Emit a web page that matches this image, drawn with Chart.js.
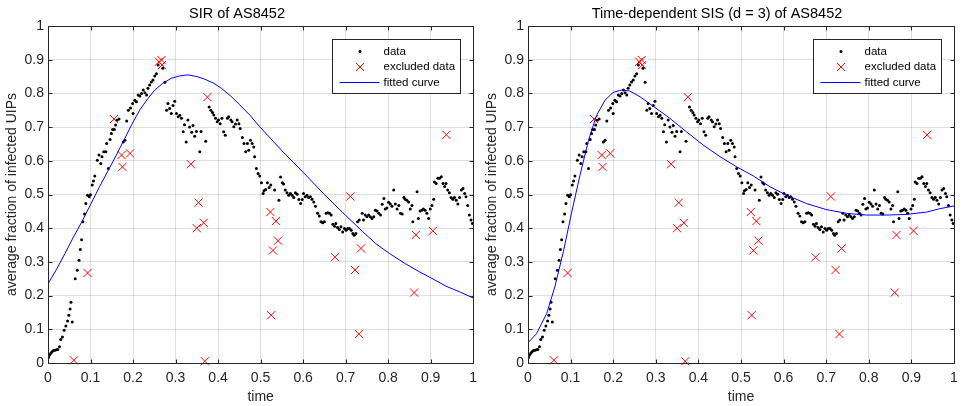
<!DOCTYPE html>
<html lang="en">
<head>
  <meta charset="UTF-8" />
  <title>SIR / SIS fits of AS8452</title>
  <script src="https://cdn.jsdelivr.net/npm/chart.js@4.4.1/dist/chart.umd.min.js"></script>
  <style>
    body { margin: 0; background: #fff; }
    .box { position: absolute; top: 0; height: 406px; }
  </style>
</head>
<body>
  <div class="box" style="left:0;width:480px"><canvas id="sirChart"></canvas></div>
  <div class="box" style="left:480px;width:484px"><canvas id="sisChart"></canvas></div>

  <script>
    // observed data (black dots)
    const dataT = [
      0.001, 0.003, 0.006, 0.009, 0.012, 0.016, 0.020, 0.023, 0.027, 0.030,
      0.034, 0.038, 0.042, 0.046, 0.049, 0.052, 0.054, 0.057, 0.064, 0.069,
      0.073, 0.076, 0.079, 0.082, 0.086, 0.089, 0.093, 0.097, 0.100, 0.104,
      0.107, 0.110, 0.116, 0.120, 0.124, 0.127, 0.131, 0.136, 0.138, 0.142,
      0.146, 0.149, 0.152, 0.156, 0.159, 0.162, 0.167, 0.177, 0.181, 0.185,
      0.189, 0.194, 0.199, 0.200, 0.204, 0.208, 0.212, 0.216, 0.220, 0.224,
      0.228, 0.232, 0.235, 0.239, 0.243, 0.247, 0.251, 0.255, 0.259, 0.270,
      0.275, 0.279, 0.282, 0.286, 0.290, 0.294, 0.298, 0.302, 0.306, 0.310,
      0.314, 0.318, 0.321, 0.325, 0.329, 0.333, 0.338, 0.341, 0.345, 0.349,
      0.357, 0.360, 0.371, 0.379, 0.383, 0.387, 0.390, 0.394, 0.398, 0.401,
      0.405, 0.409, 0.413, 0.417, 0.422, 0.425, 0.430, 0.433, 0.437, 0.441,
      0.445, 0.449, 0.452, 0.457, 0.461, 0.465, 0.469, 0.472, 0.476, 0.480,
      0.484, 0.486, 0.490, 0.494, 0.498, 0.502, 0.506, 0.508, 0.512, 0.516,
      0.520, 0.524, 0.533, 0.543, 0.547, 0.551, 0.554, 0.558, 0.562, 0.566,
      0.570, 0.574, 0.578, 0.582, 0.586, 0.590, 0.594, 0.598, 0.601, 0.605,
      0.609, 0.613, 0.617, 0.621, 0.625, 0.629, 0.634, 0.638, 0.642, 0.646,
      0.650, 0.654, 0.658, 0.662, 0.666, 0.670, 0.674, 0.677, 0.681, 0.685,
      0.689, 0.693, 0.697, 0.701, 0.705, 0.709, 0.713, 0.717, 0.720, 0.724,
      0.728, 0.732, 0.739, 0.742, 0.746, 0.750, 0.754, 0.758, 0.762, 0.766,
      0.770, 0.774, 0.778, 0.782, 0.786, 0.790, 0.793, 0.797, 0.801, 0.805,
      0.809, 0.813, 0.817, 0.821, 0.825, 0.829, 0.833, 0.837, 0.840, 0.844,
      0.848, 0.852, 0.856, 0.858, 0.868, 0.871, 0.875, 0.879, 0.883, 0.887,
      0.891, 0.895, 0.899, 0.903, 0.907, 0.909, 0.913, 0.917, 0.921, 0.925,
      0.929, 0.933, 0.936, 0.940, 0.944, 0.948, 0.952, 0.956, 0.960, 0.964,
      0.968, 0.972, 0.976, 0.980, 0.983, 0.987, 0.991, 0.995, 0.998
    ];
    const dataV = [
      0.016, 0.023, 0.028, 0.033, 0.036, 0.038, 0.039, 0.040, 0.048, 0.070,
      0.077, 0.097, 0.110, 0.125, 0.142, 0.160, 0.180, 0.122, 0.250, 0.275,
      0.305, 0.337, 0.366, 0.419, 0.442, 0.473, 0.498, 0.493, 0.499, 0.528,
      0.540, 0.555, 0.602, 0.617, 0.592, 0.612, 0.627, 0.627, 0.651, 0.577,
      0.663, 0.681, 0.693, 0.693, 0.706, 0.720, 0.724, 0.656, 0.661, 0.718,
      0.750, 0.757, 0.770, 0.740, 0.780, 0.775, 0.795, 0.792, 0.800, 0.810,
      0.802, 0.795, 0.815, 0.825, 0.834, 0.840, 0.852, 0.858, 0.884, 0.875,
      0.833, 0.750, 0.770, 0.755, 0.740, 0.764, 0.777, 0.740, 0.731, 0.735,
      0.726, 0.686, 0.707, 0.656, 0.721, 0.700, 0.685, 0.705, 0.673, 0.687,
      0.627, 0.687, 0.658, 0.760, 0.750, 0.743, 0.736, 0.726, 0.716, 0.721,
      0.710, 0.726, 0.686, 0.676, 0.726, 0.731, 0.721, 0.716, 0.701, 0.709,
      0.721, 0.710, 0.696, 0.669, 0.651, 0.627, 0.651, 0.631, 0.661, 0.651,
      0.641, 0.612, 0.577, 0.562, 0.555, 0.535, 0.503, 0.511, 0.515, 0.535,
      0.521, 0.528, 0.513, 0.483, 0.552, 0.535, 0.531, 0.513, 0.505, 0.498,
      0.503, 0.498, 0.491, 0.505, 0.501, 0.485, 0.473, 0.485, 0.503, 0.493,
      0.498, 0.491, 0.493, 0.486, 0.478, 0.465, 0.444, 0.436, 0.419, 0.416,
      0.419, 0.444, 0.446, 0.444, 0.439, 0.412, 0.406, 0.414, 0.402, 0.396,
      0.404, 0.389, 0.399, 0.394, 0.399, 0.399, 0.394, 0.384, 0.379, 0.384,
      0.419, 0.424, 0.444, 0.424, 0.439, 0.434, 0.439, 0.434, 0.429, 0.434,
      0.453, 0.451, 0.444, 0.439, 0.471, 0.488, 0.457, 0.460, 0.477, 0.472,
      0.465, 0.513, 0.472, 0.457, 0.467, 0.444, 0.442, 0.491, 0.486, 0.483,
      0.478, 0.457, 0.467, 0.419, 0.508, 0.429, 0.451, 0.453, 0.457, 0.453,
      0.444, 0.429, 0.457, 0.467, 0.486, 0.537, 0.533, 0.548, 0.548, 0.553,
      0.533, 0.524, 0.533, 0.513, 0.505, 0.491, 0.486, 0.491, 0.483, 0.472,
      0.491, 0.513, 0.518, 0.503, 0.493, 0.467, 0.439, 0.424, 0.414
    ];

    // excluded data (red crosses)
    const exclT = [0.061, 0.093, 0.155, 0.173, 0.175, 0.193, 0.261, 0.267, 0.268, 0.336,
      0.354, 0.350, 0.366, 0.369, 0.375, 0.523, 0.536, 0.541, 0.529, 0.525,
      0.675, 0.711, 0.722, 0.736, 0.731, 0.861, 0.865, 0.905, 0.937];
    const exclV = [0.008, 0.267, 0.724, 0.617, 0.582, 0.622, 0.894, 0.899, 0.884, 0.590,
      0.476, 0.400, 0.416, 0.005, 0.789, 0.448, 0.421, 0.363, 0.334, 0.142,
      0.314, 0.494, 0.276, 0.340, 0.086, 0.209, 0.380, 0.392, 0.677];

    // fitted curves
    const sirT = [0, 0.02, 0.04, 0.06, 0.08, 0.10, 0.12, 0.14, 0.16, 0.18,
      0.20, 0.216, 0.235, 0.251, 0.27, 0.29, 0.31, 0.329, 0.35, 0.369,
      0.39, 0.408, 0.43, 0.451, 0.475, 0.498, 0.52, 0.55, 0.60, 0.65,
      0.70, 0.74, 0.77, 0.803, 0.84, 0.873, 0.90, 0.936, 0.97, 1.0];
    const sirV = [0.235, 0.278, 0.325, 0.374, 0.420, 0.470, 0.520, 0.568, 0.615, 0.665,
      0.715, 0.751, 0.785, 0.810, 0.830, 0.845, 0.852, 0.855, 0.850, 0.842,
      0.830, 0.815, 0.792, 0.766, 0.735, 0.701, 0.671, 0.630, 0.566, 0.500,
      0.438, 0.390, 0.355, 0.325, 0.295, 0.271, 0.253, 0.228, 0.210, 0.193];
    const sisT = [0, 0.020, 0.044, 0.063, 0.083, 0.102, 0.122, 0.142, 0.161, 0.181,
      0.200, 0.220, 0.239, 0.263, 0.294, 0.333, 0.372, 0.411, 0.451, 0.490,
      0.529, 0.568, 0.607, 0.654, 0.701, 0.748, 0.795, 0.842, 0.889, 0.936,
      0.967, 1.0];
    const sisV = [0.060, 0.087, 0.147, 0.226, 0.330, 0.444, 0.557, 0.661, 0.735, 0.780,
      0.803, 0.810, 0.807, 0.790, 0.762, 0.726, 0.686, 0.647, 0.612, 0.582,
      0.555, 0.523, 0.498, 0.473, 0.455, 0.444, 0.439, 0.439, 0.441, 0.448,
      0.458, 0.466];

    const tickLabels = ['0', '0.1', '0.2', '0.3', '0.4', '0.5', '0.6', '0.7', '0.8', '0.9', '1'];

    const FONT = 'Liberation Sans, Arial, Helvetica, sans-serif';
    const INK = '#262626';

    function pts(xs, ys) {
      return xs.map((x, i) => ({ x: x, y: ys[i] }));
    }

    // box + inward ticks like matlab
    const framePlugin = {
      id: 'frame',
      afterDatasetsDraw(chart) {
        const { ctx, chartArea: a, scales } = chart;
        const L = Math.round(a.left) + 0.5, R = Math.round(a.right) + 0.5;
        const T = Math.round(a.top) + 0.5, B = Math.round(a.bottom) + 0.5;
        ctx.save();
        ctx.strokeStyle = INK;
        ctx.lineWidth = 1;
        ctx.strokeRect(L, T, R - L, B - T);
        ctx.beginPath();
        scales.x.ticks.forEach(t => {
          const px = Math.round(scales.x.getPixelForValue(t.value)) + 0.5;
          ctx.moveTo(px, B); ctx.lineTo(px, B - 4);
          ctx.moveTo(px, T); ctx.lineTo(px, T + 4);
        });
        scales.y.ticks.forEach(t => {
          const py = Math.round(scales.y.getPixelForValue(t.value)) + 0.5;
          ctx.moveTo(L, py); ctx.lineTo(L + 4, py);
          ctx.moveTo(R, py); ctx.lineTo(R - 4, py);
        });
        ctx.stroke();
        ctx.restore();
      }
    };

    const legendPlugin = {
      id: 'boxLegend',
      afterDraw(chart) {
        const { ctx, chartArea: a } = chart;
        const w = 128, h = 54;
        const x0 = Math.round(a.right - 13 - w) + 0.5, y0 = Math.round(a.top + 13) + 0.5;
        ctx.save();
        ctx.fillStyle = '#fff';
        ctx.fillRect(x0, y0, w, h);
        ctx.strokeStyle = INK;
        ctx.lineWidth = 1;
        ctx.strokeRect(x0, y0, w, h);
        const mx = x0 + 27.5;
        const rows = [y0 + 12, y0 + 27.5, y0 + 43];
        // data dot
        ctx.fillStyle = '#000';
        ctx.beginPath(); ctx.arc(mx, rows[0], 1.5, 0, Math.PI * 2); ctx.fill();
        // red cross
        ctx.strokeStyle = '#ff0000';
        ctx.beginPath();
        ctx.moveTo(mx - 4, rows[1] - 4); ctx.lineTo(mx + 4, rows[1] + 4);
        ctx.moveTo(mx + 4, rows[1] - 4); ctx.lineTo(mx - 4, rows[1] + 4);
        ctx.stroke();
        // blue line
        ctx.strokeStyle = '#0000ff';
        ctx.beginPath(); ctx.moveTo(x0 + 7, rows[2]); ctx.lineTo(x0 + 47, rows[2]); ctx.stroke();
        ctx.fillStyle = '#000';
        ctx.font = '11.5px ' + FONT;
        ctx.textBaseline = 'middle';
        ['data', 'excluded data', 'fitted curve'].forEach((s, i) => ctx.fillText(s, x0 + 51, rows[i]));
        ctx.restore();
      }
    };

    function makeChart(id, title, curveT, curveV, padRight) {
      return new Chart(document.getElementById(id), {
        type: 'scatter',
        data: {
          datasets: [
            {
              label: 'fitted curve',
              type: 'line',
              data: pts(curveT, curveV),
              borderColor: '#0000ff',
              borderWidth: 1,
              pointRadius: 0,
              tension: 0,
              fill: false,
            },
            {
              label: 'excluded data',
              data: pts(exclT, exclV),
              pointStyle: 'crossRot',
              pointRadius: 5.8,
              borderColor: '#ff0000',
              borderWidth: 1,
              clip: false,
            },
            {
              label: 'data',
              data: pts(dataT, dataV),
              pointStyle: 'circle',
              pointRadius: 1.5,
              borderWidth: 0,
              backgroundColor: '#000',
            },
          ],
        },
        options: {
          responsive: true,
          maintainAspectRatio: false,
          animation: false,
          layout: { padding: { left: 0, right: padRight, top: 0, bottom: 0 } },
          plugins: {
            legend: { display: false },
            tooltip: { enabled: false },
            title: {
              display: true,
              text: title,
              color: '#000',
              font: { family: FONT, size: 14.5, weight: 'normal' },
              padding: { top: 5, bottom: 3.6 },
            },
          },
          scales: {
            x: {
              type: 'linear',
              min: 0,
              max: 1,
              afterFit: (s) => { s.height = 43; s.paddingLeft = 0; s.paddingRight = 0; },
              border: { display: false },
              grid: { color: 'rgba(38,38,38,0.15)', drawTicks: false },
              ticks: {
                stepSize: 0.1,
                padding: 7,
                color: INK,
                maxRotation: 0,
                font: { family: FONT, size: 14 },
                callback: (v, i) => tickLabels[i],
              },
              title: {
                display: true,
                text: 'time',
                color: INK,
                font: { family: FONT, size: 14 },
                padding: { top: 2, bottom: 0 },
              },
            },
            y: {
              type: 'linear',
              min: 0,
              max: 1,
              afterFit: (s) => { s.width = 48; s.paddingTop = 0; s.paddingBottom = 0; },
              border: { display: false },
              grid: { color: 'rgba(38,38,38,0.15)', drawTicks: false },
              ticks: {
                stepSize: 0.1,
                padding: 4,
                color: INK,
                font: { family: FONT, size: 14 },
                callback: (v, i) => tickLabels[i],
              },
              title: {
                display: true,
                text: 'average fraction of infected UIPs',
                color: INK,
                font: { family: FONT, size: 14 },
                padding: { top: 4, bottom: 0 },
              },
            },
          },
        },
        plugins: [framePlugin, legendPlugin],
      });
    }

    makeChart('sirChart', 'SIR of AS8452', sirT, sirV, 6);
    makeChart('sisChart', 'Time-dependent SIS (d = 3) of AS8452', sisT, sisV, 10);
  </script>
</body>
</html>
